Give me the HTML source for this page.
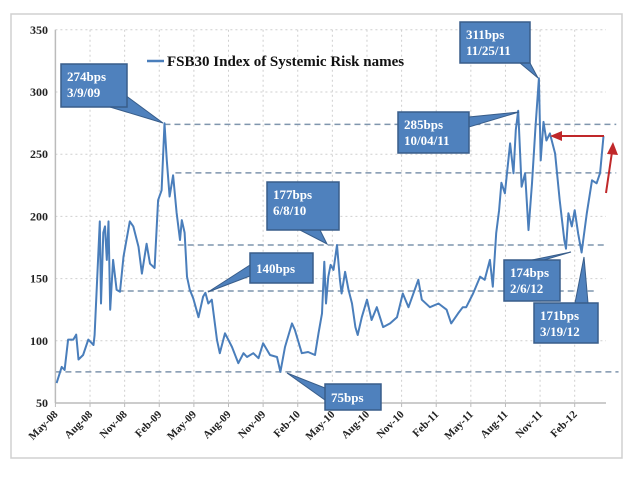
<!DOCTYPE html>
<html><head><meta charset="utf-8"><style>
body{margin:0;background:#fff;width:640px;height:479px;overflow:hidden}
svg{display:block}
text{font-family:"Liberation Serif",serif}
</style></head><body>
<svg id="chart" width="640" height="479">
<rect x="11" y="14" width="611" height="444" fill="#fff" stroke="#d0d0d0" stroke-width="1.5"/>
<g id="grid"></g>
<g id="refs"></g>
<g id="axes"></g>
<g id="series"></g>
<g id="callouts"></g>
<g>
<line x1="147" y1="61" x2="164" y2="61" stroke="#4a7ebb" stroke-width="2.5"/>
<text x="167" y="66" font-size="15" font-weight="bold" fill="#111">FSB30 Index of Systemic Risk names</text>
</g>
<g>
<line x1="604" y1="136" x2="560" y2="136" stroke="#c0282a" stroke-width="2"/>
<polygon points="550,136 562,131 562,141" fill="#c0282a"/>
<line x1="606" y1="193" x2="612" y2="152" stroke="#c0282a" stroke-width="2"/>
<polygon points="613,142 607,154 618,155" fill="#c0282a"/>
</g>
</svg>
<script>
const yTicks=[50,100,150,200,250,300,350];
const xTickLabels=["May-08","Aug-08","Nov-08","Feb-09","May-09","Aug-09","Nov-09","Feb-10","May-10","Aug-10","Nov-10","Feb-11","May-11","Aug-11","Nov-11","Feb-12"];
const months=[0.1,0.55,0.8,1.1,1.55,1.8,2.0,2.4,2.85,3.3,3.4,3.85,3.95,4.15,4.3,4.45,4.6,4.75,5.0,5.3,5.6,5.9,6.45,6.75,7.2,7.5,7.9,8.2,8.6,8.9,9.2,9.45,9.65,9.9,10.2,10.5,10.8,10.95,11.2,11.4,11.65,11.95,12.4,12.8,13.0,13.25,13.55,14.0,14.25,14.7,15.3,15.85,16.3,16.6,17.15,17.6,18.0,18.6,19.2,19.5,19.9,20.5,20.75,21.35,21.9,22.5,22.8,23.1,23.3,23.45,23.65,23.85,24.1,24.4,24.65,24.8,25.1,25.4,25.7,26.0,26.2,26.55,27.0,27.4,27.85,28.4,29.0,29.6,30.1,30.6,31.45,31.75,32.45,33.2,33.9,34.3,34.9,35.3,35.6,36.2,36.8,37.2,37.65,37.9,38.2,38.45,38.65,38.95,39.4,39.7,39.9,40.1,40.4,40.7,41.0,41.3,41.6,41.9,42.05,42.3,42.55,42.85,43.3,43.7,44.1,44.25,44.45,44.75,45.0,45.3,45.6,46.05,46.5,46.9,47.2,47.5];
const values=[66,79,76.5,101,101,105,85,88.6,101,96.6,104.7,196,130,187,192,165,196,125,165,141,139.5,167.6,196,192,175.6,154,178,162,158.5,213,221,274.8,245,216,233,203,181,197,187,151.5,141,134,119,135.5,138.6,130,133,100.6,90,106,95,82,90,87,90,86,98,88.6,87,75,95,114,108.7,90,91,88.6,106,122,163.6,130,151.5,161,157,177,149,138,155.5,141,130,111,104.7,119,133,116.7,127,111,114,119,138,127,149,133,127,130,125,114,122,127,127,138,151.5,149,165,143.5,186.6,205,227,218.6,258.7,234.7,269.5,285,223.9,234.7,189,226.6,272,311,245,276,261,266.7,250.6,213,181,174,202.5,192,205,186,171,202.5,229,226.6,235,264.5];
const refLevels=[274,235,177,140,75];
const refStart=[9.45,10.4,10.6,5.4,0];
const refEnd=[48.6,48.6,47.7,46.7,48.8];
const NS="http://www.w3.org/2000/svg";
const X0=55.4,PXM=11.54,Y50=403,PXU=1.244;
const xs=t=>X0+t*PXM;
const ys=v=>Y50-(v-50)*PXU;
function mk(tag,attrs,parent,txt){const e=document.createElementNS(NS,tag);for(const k in attrs)e.setAttribute(k,attrs[k]);if(txt!==undefined)e.textContent=txt;parent.appendChild(e);return e;}
const grid=document.getElementById('grid'),axes=document.getElementById('axes'),refs=document.getElementById('refs'),series=document.getElementById('series'),cg=document.getElementById('callouts');
yTicks.forEach(v=>{
 const l=mk('line',{x1:X0,x2:606,y1:ys(v),y2:ys(v),stroke:'#cfcfcf','stroke-dasharray':'2,3'},grid);
 
 
 const t=mk('text',{x:48,y:ys(v)+4,'text-anchor':'end','font-size':12,'font-weight':'bold',fill:'#222'},axes,String(v));
 
 
});
xTickLabels.forEach((s,i)=>{
 const x=xs(i*3);
 if(i>0){const g=mk('line',{x1:x,x2:x,y1:ys(350),y2:Y50,stroke:'#cfcfcf','stroke-dasharray':'2,3'},grid);
 
 }
 const tk=mk('line',{x1:x,x2:x,y1:Y50,y2:Y50+4,stroke:'#bbb'},axes);
 
 
 const t=mk('text',{x:x+3,y:Y50+12,'text-anchor':'end','font-size':11,'font-weight':'bold',fill:'#222',transform:`rotate(-45 ${x+3} ${Y50+12})`},axes,s);
 
 
});
const ya=mk('line',{x1:X0,x2:X0,y1:ys(350),y2:Y50,stroke:'#bbb','stroke-width':1.5},axes);


const xa=mk('line',{x1:X0,x2:606,y1:Y50,y2:Y50,stroke:'#bbb','stroke-width':1.5},axes);


refLevels.forEach((v,i)=>{
 const l=mk('line',{x1:xs(refStart[i]),x2:xs(refEnd[i]),y1:ys(v),y2:ys(v),stroke:'#7f95ad','stroke-width':1.5,'stroke-dasharray':'6,4'},refs);
 
 
});
const pts=months.map((m,i)=>xs(m).toFixed(1)+','+ys(values[i]).toFixed(1)).join(' ');
const pl=mk('polyline',{points:pts,fill:'none',stroke:'#4a7ebb','stroke-width':2,'stroke-linejoin':'round'},series);


const callouts=[
 {n:'callout-274bps',b:[61,64,66,43],tail:[110,107,125,95],tip:[163,123],t:['274bps','3/9/09']},
 {n:'callout-177bps',b:[267,182,72,48],tail:[300,230,320,230],tip:[327,244],t:['177bps','6/8/10']},
 {n:'callout-140bps',b:[250,253,63,30],tail:[250,265,250,276],tip:[208,292],t:['140bps']},
 {n:'callout-75bps',b:[325,384,56,26],tail:[325,388,325,400],tip:[287,373],t:['75bps']},
 {n:'callout-285bps',b:[398,112,71,41],tail:[469,117,469,127],tip:[519,112],t:['285bps','10/04/11']},
 {n:'callout-311bps',b:[460,22,70,41],tail:[520,63,530,63],tip:[538,78],t:['311bps','11/25/11']},
 {n:'callout-174bps',b:[504,260,56,41],tail:[532,260,544,260],tip:[571,252],t:['174bps','2/6/12']},
 {n:'callout-171bps',b:[534,303,64,40],tail:[575,303,588,303],tip:[584,257],t:['171bps','3/19/12']}
];
callouts.forEach(c=>{
 const g=mk('g',{},cg);
 
 
 mk('polygon',{points:`${c.tail[0]},${c.tail[1]} ${c.tail[2]},${c.tail[3]} ${c.tip[0]},${c.tip[1]}`,fill:'#4f81bd',stroke:'#385d8a','stroke-width':1},g);
 mk('rect',{x:c.b[0],y:c.b[1],width:c.b[2],height:c.b[3],fill:'#4f81bd',stroke:'#385d8a','stroke-width':1.5},g);
 mk('polygon',{points:`${c.tail[0]},${c.tail[1]} ${c.tail[2]},${c.tail[3]} ${(c.tail[0]+c.tail[2])/2},${(c.tail[1]+c.tail[3])/2}`,fill:'#4f81bd'},g);
 c.t.forEach((s,j)=>{
  const ty=c.t.length===1?c.b[1]+c.b[3]/2+5:c.b[1]+17+j*16;
  mk('text',{x:c.b[0]+6,y:ty,'font-size':13,'font-weight':'bold',fill:'#fff'},g,s);
 });
});
</script>
</body></html>
